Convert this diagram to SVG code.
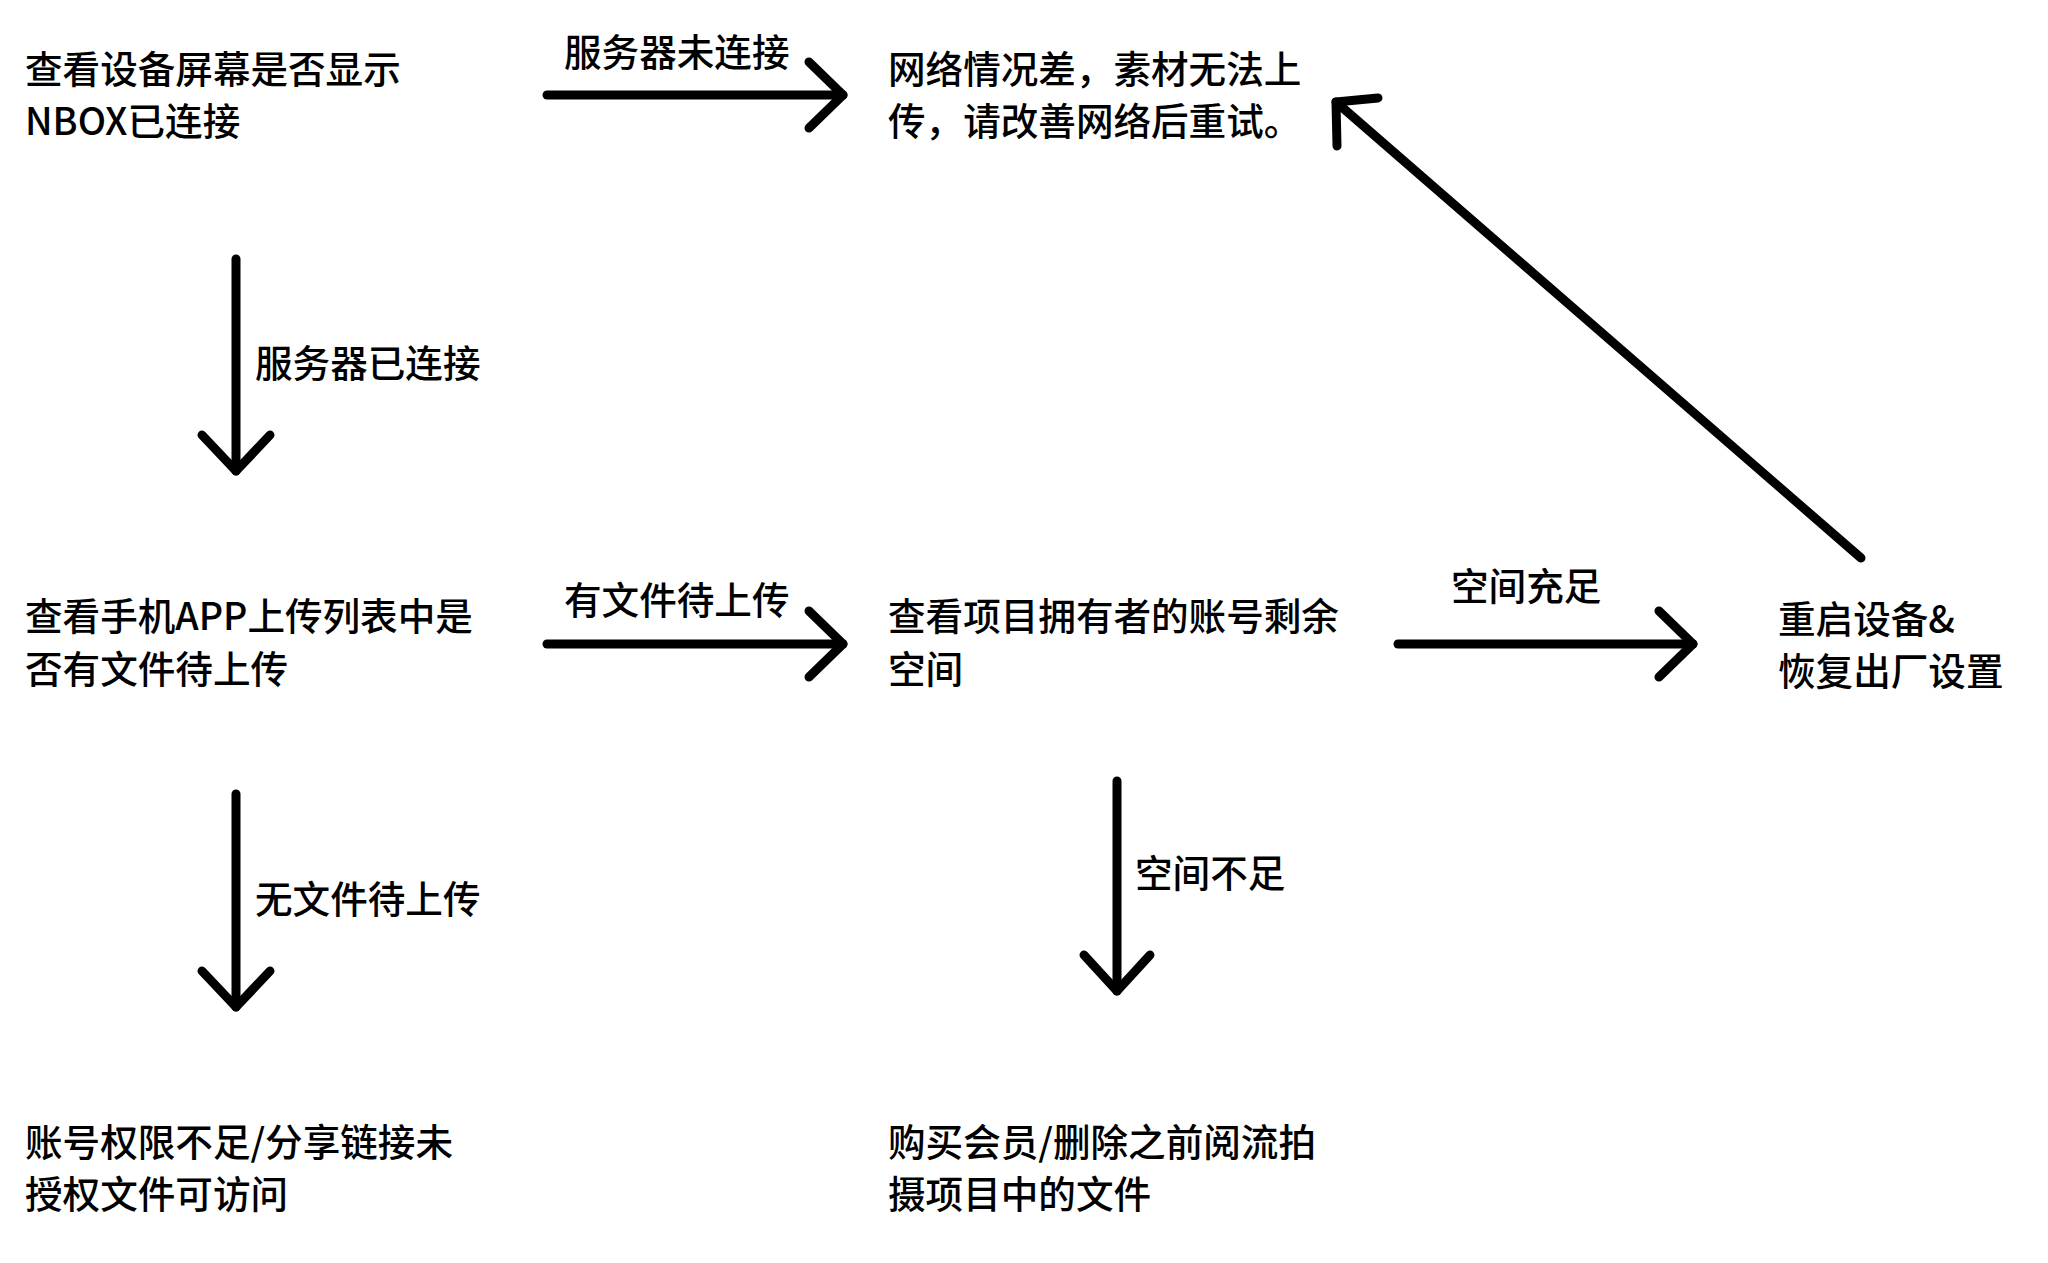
<svg xmlns="http://www.w3.org/2000/svg" width="2048" height="1263" viewBox="0 0 2048 1263">
<style>
text{font-family:"Noto Sans CJK SC","Noto Sans",sans-serif;font-size:37.6px;font-weight:500;fill:#000}
.c line,.c polyline{stroke:#000;stroke-width:9;stroke-linecap:round;stroke-linejoin:round;fill:none}
</style>
<rect width="2048" height="1263" fill="#fff"/>
<g id="n1"><text x="25" y="83">查看设备屏幕是否显示</text><text x="25" y="135">NBOX已连接</text></g>
<g id="n2"><text x="888" y="83">网络情况差，素材无法上</text><text x="888" y="135">传，请改善网络后重试。</text></g>
<g id="n3"><text x="25" y="630">查看手机APP上传列表中是</text><text x="25" y="683">否有文件待上传</text></g>
<g id="n4"><text x="888" y="630">查看项目拥有者的账号剩余</text><text x="888" y="683">空间</text></g>
<g id="n5"><text x="1778" y="633">重启设备&amp;</text><text x="1778" y="685">恢复出厂设置</text></g>
<g id="n6"><text x="25" y="1156">账号权限不足/分享链接未</text><text x="25" y="1208">授权文件可访问</text></g>
<g id="n7"><text x="888" y="1156">购买会员/删除之前阅流拍</text><text x="888" y="1208">摄项目中的文件</text></g>
<g class="c" id="connectors">
<line x1="547" y1="95" x2="843" y2="95"/><polyline points="809,62 843,95 809,128"/>
<line x1="236" y1="259" x2="236" y2="471"/><polyline points="202,435 236,471 270,435"/>
<line x1="547" y1="644" x2="843" y2="644"/><polyline points="809,611 843,644 809,677"/>
<line x1="236" y1="794" x2="236" y2="1007"/><polyline points="202,971 236,1007 270,971"/>
<line x1="1398" y1="644" x2="1693" y2="644"/><polyline points="1659,611 1693,644 1659,677"/>
<line x1="1117" y1="781" x2="1117" y2="991"/><polyline points="1084,955 1117,991 1150,955"/>
<line x1="1861" y1="558" x2="1336" y2="102"/><polyline points="1378,98 1336,102 1337,146"/>
<text x="564" y="66">服务器未连接</text>
<text x="255" y="377">服务器已连接</text>
<text x="564" y="614">有文件待上传</text>
<text x="255" y="913">无文件待上传</text>
<text x="1451" y="600">空间充足</text>
<text x="1135" y="887">空间不足</text>
</g>
</svg>
